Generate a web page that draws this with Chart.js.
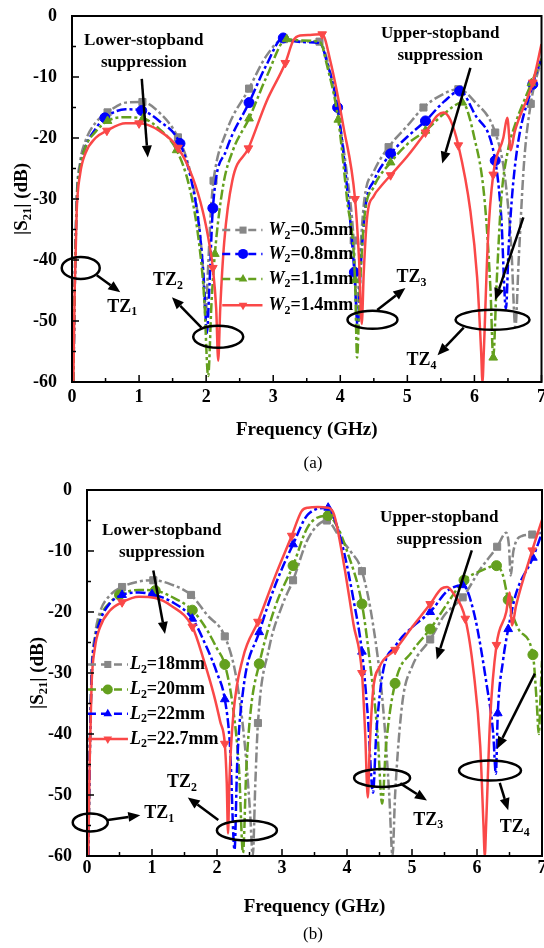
<!DOCTYPE html>
<html>
<head>
<meta charset="utf-8">
<script src="https://cdn.jsdelivr.net/npm/chart.js@4.4.1/dist/chart.umd.min.js"></script>
<style>
  body { margin: 0; background: #fff; }
  canvas { position: absolute; left: 0; }
</style>
</head>
<body>
<canvas id="chart-a" width="544" height="474" style="top:0"></canvas>
<canvas id="chart-b" width="544" height="474" style="top:474px"></canvas>
<script>
// ── Axis ticks ────────────────────────────────────────────────────────────────
const freqTicks = [0, 1, 2, 3, 4, 5, 6, 7];
const dbTicks = [0, -10, -20, -30, -40, -50, -60];

// ── (a) W2 sweep: [GHz, dB, marker?] ─────────────────────────────────────────
const w2Labels = ["0.5", "0.8", "1.1", "1.4"];
const w05 = [[0.02,-60],[0.04,-45],[0.07,-30],[0.12,-24],[0.2,-20.5],[0.35,-17.5],[0.53,-15.8,1],[0.8,-14.2],[1.05,-14.1,1],[1.3,-15.8],[1.58,-19.9,1],[1.75,-25],[1.88,-33],[1.95,-41],[1.99,-49],[2.03,-41],[2.07,-32],[2.11,-27,1],[2.3,-19],[2.64,-11.9,1],[2.9,-6.5],[3.16,-3.8,1],[3.4,-4.2],[3.69,-4.2,1],[3.8,-7],[3.95,-15],[4.1,-26],[4.2,-36.8,1],[4.25,-48],[4.29,-40],[4.36,-30],[4.5,-25.5],[4.72,-21.5,1],[5.0,-18],[5.24,-15,1],[5.5,-13],[5.76,-12,1],[6.0,-14],[6.31,-19.1,1],[6.45,-26],[6.55,-38],[6.61,-51],[6.66,-40],[6.74,-24],[6.84,-14.4,1],[7.0,-7]];
const w08 = [[0.02,-60],[0.04,-45],[0.07,-31],[0.12,-25],[0.2,-21.5],[0.35,-18.5],[0.49,-16.7,1],[0.8,-15.3],[1.04,-15.5,1],[1.3,-17.2],[1.61,-20.9,1],[1.78,-27],[1.9,-35],[1.97,-44],[2.01,-52],[2.05,-44],[2.1,-31.5,1],[2.3,-22],[2.64,-14.2,1],[2.9,-8],[3.15,-3.6,1],[3.3,-4.1],[3.5,-4.3],[3.7,-4.5],[3.8,-7.5],[3.96,-15,1],[4.1,-28],[4.21,-42,1],[4.26,-51],[4.3,-42],[4.38,-31],[4.5,-27],[4.75,-22.6,1],[5.0,-19.8],[5.27,-17.2,1],[5.55,-14],[5.78,-12.3,1],[6.0,-16],[6.31,-23.7,1],[6.4,-33],[6.47,-48],[6.51,-38],[6.6,-25],[6.87,-11.2,1],[7.0,-7]];
const w11 = [[0.02,-60],[0.04,-45],[0.07,-31],[0.12,-25],[0.2,-21.5],[0.35,-19],[0.53,-17.2,1],[0.8,-16.6],[1.06,-16.8,1],[1.3,-18.5],[1.56,-22,1],[1.75,-28],[1.88,-36],[1.97,-46],[2.03,-59],[2.08,-47],[2.13,-39,1],[2.25,-28],[2.4,-22],[2.64,-16.8,1],[2.9,-10],[3.2,-3.8,1],[3.4,-4],[3.7,-4.3],[3.8,-8],[3.97,-17,1],[4.1,-30],[4.22,-43.3,1],[4.25,-56],[4.29,-45],[4.36,-33],[4.5,-28],[4.75,-24,1],[5.0,-21],[5.27,-18.8,1],[5.55,-16],[5.82,-14.2,1],[6.0,-20],[6.15,-30],[6.24,-45],[6.28,-56,1],[6.33,-44],[6.4,-30],[6.5,-22],[6.6,-18],[6.85,-11,1],[7.0,-7]];
const w14 = [[0.02,-60],[0.04,-45],[0.07,-32],[0.12,-26],[0.2,-22.5],[0.35,-20],[0.52,-18.8,1],[0.8,-17.6],[1.0,-17.6,1],[1.3,-18.8],[1.58,-21.6,1],[1.8,-26.5],[1.95,-32],[2.05,-37.5],[2.1,-41.3,1],[2.15,-48],[2.18,-56.5],[2.21,-48],[2.27,-37],[2.39,-27],[2.63,-21.7,1],[2.9,-14],[3.18,-7.7,1],[3.3,-4],[3.4,-3.2],[3.55,-3.1],[3.73,-3,1],[3.85,-7.3],[4.05,-18.3],[4.22,-30,1],[4.28,-40],[4.32,-50.5],[4.35,-42],[4.4,-33],[4.5,-29.5],[4.6,-28],[4.75,-26.1,1],[5.0,-23],[5.27,-19.1,1],[5.45,-16.3],[5.54,-15.8],[5.64,-17],[5.76,-21.2,1],[5.94,-32],[6.04,-42.8],[6.1,-55],[6.12,-60],[6.14,-55],[6.2,-37],[6.28,-26,1],[6.43,-20],[6.49,-16.7],[6.54,-22],[6.6,-19],[6.87,-10.9,1],[7.0,-4.6]];

// ── (b) L2 sweep ──────────────────────────────────────────────────────────────
const l2Labels = ["18", "20", "22", "22.7"];
const l18 = [[0.02,-60],[0.04,-45],[0.07,-30],[0.12,-24],[0.2,-20],[0.35,-17.3],[0.54,-15.9,1],[0.8,-15],[1.02,-14.8,1],[1.3,-15.5],[1.6,-17.2,1],[1.85,-20.5],[2.12,-24,1],[2.3,-31],[2.43,-42],[2.51,-53],[2.55,-60],[2.59,-48],[2.63,-38.2,1],[2.8,-26],[3.0,-19],[3.17,-14.8,1],[3.4,-8],[3.69,-5,1],[3.9,-8],[4.05,-10],[4.23,-13.3,1],[4.4,-22],[4.55,-35],[4.65,-50],[4.7,-60],[4.74,-50],[4.85,-35],[5.0,-29],[5.28,-24.5,1],[5.5,-20.5],[5.78,-17.6,1],[6.05,-13],[6.31,-9.3,1],[6.45,-7],[6.49,-9],[6.52,-14],[6.56,-10],[6.7,-7.5],[6.85,-7.3,1],[7.0,-7]];
const l20 = [[0.02,-60],[0.04,-45],[0.07,-31],[0.12,-25],[0.2,-21],[0.35,-18.5],[0.5,-17.2,1],[0.8,-16.4],[1.05,-16.5,1],[1.3,-17.5],[1.62,-19.7,1],[1.85,-23],[2.0,-26],[2.12,-28.6,1],[2.25,-36],[2.34,-46],[2.4,-59.5],[2.45,-46],[2.52,-36],[2.65,-28.5,1],[2.9,-19],[3.17,-12.4,1],[3.4,-6],[3.71,-4.2,1],[3.85,-6],[4.0,-10],[4.23,-18.7,1],[4.35,-28],[4.47,-40],[4.54,-51.4],[4.6,-42],[4.74,-31.7,1],[5.0,-26.5],[5.28,-22.8,1],[5.55,-18.5],[5.8,-14.8,1],[6.05,-13.3],[6.3,-12.4,1],[6.4,-14],[6.48,-18,1],[6.65,-23],[6.86,-27,1],[6.92,-35],[6.95,-40],[6.98,-33],[7.0,-28]];
const l22 = [[0.02,-60],[0.04,-45],[0.07,-31],[0.12,-25],[0.2,-21.5],[0.35,-18.6],[0.54,-17.2,1],[0.8,-16.8],[1.0,-17.1,1],[1.3,-18.3],[1.62,-21.1,1],[1.85,-26],[2.0,-30],[2.12,-34.3,1],[2.2,-42],[2.27,-59],[2.31,-45],[2.4,-33],[2.65,-23.3,1],[2.9,-15.5],[3.17,-8.9,1],[3.4,-4],[3.71,-2.9,1],[3.8,-4.5],[3.95,-10],[4.1,-18],[4.23,-26.5,1],[4.32,-37],[4.4,-49.6],[4.45,-40],[4.55,-30],[4.75,-25.5],[5.0,-22.5],[5.28,-20,1],[5.55,-16.5],[5.78,-15.6,1],[5.95,-20],[6.15,-32],[6.25,-40],[6.29,-46.5],[6.32,-36.6,1],[6.4,-28],[6.48,-22.8,1],[6.6,-17],[6.86,-11.1,1],[7.0,-7]];
const l227 = [[0.02,-60],[0.04,-45],[0.07,-32],[0.12,-26],[0.2,-22.5],[0.35,-19.8],[0.54,-18.4,1],[0.8,-17.5],[1.05,-17.7],[1.3,-19],[1.62,-22.4,1],[1.8,-28],[1.95,-33.5],[2.05,-38],[2.12,-41.6,1],[2.15,-48],[2.17,-56.3],[2.19,-48],[2.25,-37],[2.4,-27.5],[2.63,-21.6,1],[2.9,-14],[3.15,-7.5,1],[3.3,-3.5],[3.4,-2.9],[3.55,-2.8],[3.7,-2.9],[3.8,-4],[3.95,-12],[4.1,-22],[4.23,-30,1],[4.28,-40],[4.32,-50.4],[4.35,-42],[4.4,-33],[4.5,-29],[4.74,-26.2,1],[5.0,-22.5],[5.28,-18.7,1],[5.45,-16.2],[5.54,-15.9],[5.64,-17],[5.82,-21.1,1],[5.95,-30],[6.05,-42],[6.1,-55],[6.12,-60],[6.14,-55],[6.2,-38],[6.3,-25.4,1],[6.45,-20],[6.5,-16.8],[6.54,-22.2],[6.6,-19],[6.85,-9.9,1],[7.0,-4.9]];

// ── Styles ────────────────────────────────────────────────────────────────────
const SERIF = "'Liberation Serif', 'Times New Roman', serif";
const GRAY = "#878787", BLUE = "#0000ff", GREEN = "#64a01e", RED = "#fa4848";
const DASHDOT = [10, 3, 3, 3];
const stylesA = [
    { color: GRAY, point: "rect", rot: 0, dash: DASHDOT },
    { color: BLUE, point: "circle", rot: 0, dash: DASHDOT },
    { color: GREEN, point: "triangle", rot: 0, dash: DASHDOT },
    { color: RED, point: "triangle", rot: 180, dash: [] },
];
const stylesB = [
    { color: GRAY, point: "rect", rot: 0, dash: DASHDOT },
    { color: GREEN, point: "circle", rot: 0, dash: DASHDOT },
    { color: BLUE, point: "triangle", rot: 0, dash: DASHDOT },
    { color: RED, point: "triangle", rot: 180, dash: [] },
];

function series(points, st, order) {
    return {
        data: points.map(p => ({ x: p[0], y: p[1] })),
        borderColor: st.color,
        backgroundColor: st.color,
        borderWidth: 2.5,
        borderDash: st.dash,
        cubicInterpolationMode: "monotone",
        pointStyle: st.point,
        pointRotation: st.rot,
        pointRadius: ctx => (points[ctx.dataIndex] && points[ctx.dataIndex][2] ? 5 : 0),
        pointBorderWidth: 1,
        pointHoverRadius: 0,
        order,
    };
}

// ── Annotations (in data units) ───────────────────────────────────────────────
const decor = {
    "chart-a": {
        panel: "(a)", varName: "W", labels: w2Labels, styles: stylesA, yTitleX: 22, xTitleDy: 48, panelY: 464,
        legendDb: [-35.1, -39, -43.1, -47.4], legendF: { x1: 2.24, x2: 2.84, mark: 2.55, text: 2.93 },
        notes: [[1.07, -4.1, "Lower-stopband"], [1.07, -7.7, "suppression"], [5.49, -2.9, "Upper-stopband"], [5.49, -6.5, "suppression"]],
        tz: [[0.75, -47.7, "1"], [1.43, -43.3, "2"], [5.06, -42.8, "3"], [5.21, -56.4, "4"]],
        arrows: [[1.04, -10.3, 1.13, -23.2], [5.94, -8.5, 5.52, -24.2], [0.37, -42.5, 0.72, -45.3], [1.93, -51.1, 1.49, -46.1],
                 [4.55, -48.2, 4.97, -44.6], [5.84, -51.1, 5.45, -55.6], [6.73, -33, 6.31, -46.6]],
        ellipses: [[0.13, -41.3, 19, 11], [2.18, -52.6, 25, 11], [4.48, -49.8, 25, 9], [6.27, -49.8, 37, 10]],
    },
    "chart-b": {
        panel: "(b)", varName: "L", labels: l2Labels, styles: stylesB, yTitleX: 38, xTitleDy: 51, panelY: 461,
        legendDb: [-28.6, -32.7, -36.7, -40.8], legendF: { x1: 0.015, x2: 0.63, mark: 0.32, text: 0.66 },
        notes: [[1.15, -6.7, "Lower-stopband"], [1.15, -10.2, "suppression"], [5.42, -4.6, "Upper-stopband"], [5.42, -8.1, "suppression"]],
        tz: [[1.11, -53, "1"], [1.46, -48, "2"], [5.25, -54.1, "3"], [6.58, -55.3, "4"]],
        arrows: [[1.02, -13.2, 1.2, -23.6], [5.92, -9.9, 5.38, -27.8], [0.32, -54.1, 0.82, -53.3], [2.02, -54.1, 1.55, -50.4],
                 [4.82, -48.1, 5.23, -50.9], [6.35, -48, 6.48, -52.5], [6.89, -30.1, 6.31, -42.4]],
        ellipses: [[0.05, -54.5, 17.5, 9], [2.46, -55.8, 30, 10], [4.54, -47.2, 28, 9], [6.2, -46, 31, 10]],
    },
};

// ── Drawing helpers ───────────────────────────────────────────────────────────
function drawRich(ctx, parts, x, y, size, align) {
    const pieces = parts.map(p => {
        const s = p.sub ? size * 0.66 : size;
        const f = `${p.italic ? "italic " : ""}bold ${s}px ${SERIF}`;
        ctx.font = f;
        return { t: p.t, f, w: ctx.measureText(p.t).width, dy: p.sub ? size * 0.3 : 0 };
    });
    const total = pieces.reduce((a, p) => a + p.w, 0);
    let cx = align === "center" ? x - total / 2 : x;
    ctx.textAlign = "left";
    ctx.textBaseline = "middle";
    for (const p of pieces) {
        ctx.font = p.f;
        ctx.fillText(p.t, cx, y + p.dy);
        cx += p.w;
    }
}

function drawArrow(ctx, x1, y1, x2, y2) {
    const a = Math.atan2(y2 - y1, x2 - x1), L = 12, W = 5;
    const bx = x2 - L * Math.cos(a), by = y2 - L * Math.sin(a);
    ctx.beginPath();
    ctx.moveTo(x1, y1);
    ctx.lineTo(bx, by);
    ctx.stroke();
    ctx.beginPath();
    ctx.moveTo(x2, y2);
    ctx.lineTo(bx - W * Math.sin(a), by + W * Math.cos(a));
    ctx.lineTo(bx + W * Math.sin(a), by - W * Math.cos(a));
    ctx.closePath();
    ctx.fill();
}

function drawMarker(ctx, style, rot, x, y, r) {
    ctx.beginPath();
    if (style === "rect") {
        const s = r * Math.SQRT1_2;
        ctx.rect(x - s, y - s, 2 * s, 2 * s);
    } else if (style === "circle") {
        ctx.arc(x, y, r, 0, Math.PI * 2);
    } else {
        const k = rot ? -1 : 1, side = r * Math.sqrt(3);
        ctx.moveTo(x, y - k * r);
        ctx.lineTo(x + side / 2, y + k * r * 0.5);
        ctx.lineTo(x - side / 2, y + k * r * 0.5);
        ctx.closePath();
    }
    ctx.fill();
}

const decorPlugin = {
    id: "decor",
    afterDraw(chart) {
        const d = decor[chart.canvas.id];
        const { ctx, chartArea: ca } = chart;
        const xs = chart.scales.x, ys = chart.scales.y;
        const px = f => xs.getPixelForValue(f), py = v => ys.getPixelForValue(v);
        ctx.save();
        ctx.fillStyle = "#000";
        ctx.strokeStyle = "#000";

        // frame + inward ticks
        ctx.lineWidth = 2;
        ctx.strokeRect(ca.left, ca.top, ca.right - ca.left, ca.bottom - ca.top);
        ctx.lineWidth = 1.5;
        ctx.beginPath();
        for (let f = 0; f <= 7; f += 0.5) {
            const len = Number.isInteger(f) ? 7 : 4;
            ctx.moveTo(px(f), ca.bottom);
            ctx.lineTo(px(f), ca.bottom - len);
        }
        for (let v = -60; v <= 0; v += 5) {
            const len = v % 10 === 0 ? 7 : 4;
            ctx.moveTo(ca.left, py(v));
            ctx.lineTo(ca.left + len, py(v));
        }
        ctx.stroke();

        // ellipses
        ctx.lineWidth = 2.5;
        for (const [f, v, rx, ry] of d.ellipses) {
            ctx.beginPath();
            ctx.ellipse(px(f), py(v), rx, ry, 0, 0, Math.PI * 2);
            ctx.stroke();
        }
        // arrows
        for (const [f1, v1, f2, v2] of d.arrows) drawArrow(ctx, px(f1), py(v1), px(f2), py(v2));

        // notes
        ctx.textAlign = "center";
        ctx.textBaseline = "middle";
        ctx.font = `bold 17px ${SERIF}`;
        for (const [f, v, t] of d.notes) ctx.fillText(t, px(f), py(v));
        for (const [f, v, n] of d.tz) drawRich(ctx, [{ t: "TZ" }, { t: n, sub: true }], px(f), py(v), 18, "center");

        // legend
        const lf = d.legendF;
        d.labels.forEach((lab, i) => {
            const st = d.styles[i], y = py(d.legendDb[i]);
            ctx.strokeStyle = st.color;
            ctx.fillStyle = st.color;
            ctx.lineWidth = 2.5;
            ctx.setLineDash(st.dash.length ? [8, 5] : []);
            ctx.beginPath();
            ctx.moveTo(px(lf.x1), y);
            ctx.lineTo(px(lf.x2), y);
            ctx.stroke();
            ctx.setLineDash([]);
            drawMarker(ctx, st.point, st.rot, px(lf.mark), y, 5);
            ctx.fillStyle = "#000";
            drawRich(ctx, [{ t: d.varName, italic: true }, { t: "2", sub: true }, { t: `=${lab}mm` }], px(lf.text), y, 18, "left");
        });

        // axis titles and panel label
        ctx.fillStyle = "#000";
        drawRich(ctx, [{ t: "Frequency (GHz)" }], (ca.left + ca.right) / 2, ca.bottom + d.xTitleDy, 19, "center");
        ctx.save();
        ctx.translate(d.yTitleX, (ca.top + ca.bottom) / 2);
        ctx.rotate(-Math.PI / 2);
        drawRich(ctx, [{ t: "|S" }, { t: "21", sub: true }, { t: "| (dB)" }], 0, 0, 19, "center");
        ctx.restore();
        ctx.font = `17px ${SERIF}`;
        ctx.textAlign = "center";
        ctx.fillText(d.panel, 313, d.panelY);
        ctx.restore();
    },
};

// ── Chart builder ─────────────────────────────────────────────────────────────
const tickFont = { family: SERIF, weight: "bold", size: 18, lineHeight: 1 };

function buildChart(id, sets, cfg) {
    return new Chart(document.getElementById(id), {
        type: "line",
        data: { datasets: sets },
        options: {
            responsive: false,
            animation: false,
            devicePixelRatio: 1,
            layout: { autoPadding: false, padding: { top: cfg.top, right: 2, bottom: 0, left: 0 } },
            plugins: { legend: { display: false }, tooltip: { enabled: false } },
            scales: {
                x: {
                    type: "linear", min: 0, max: 7,
                    afterBuildTicks: s => { s.ticks = freqTicks.map(v => ({ value: v })); },
                    afterFit: s => { s.height = 474 - 382; },
                    grid: { display: false },
                    border: { display: true, color: "#000", width: 2 },
                    ticks: { font: tickFont, color: "#000", padding: cfg.xPad, maxRotation: 0, autoSkip: false, callback: v => String(v) },
                },
                y: {
                    type: "linear", min: -60, max: 0,
                    afterBuildTicks: s => { s.ticks = dbTicks.map(v => ({ value: v })); },
                    afterFit: s => { s.width = cfg.left; },
                    grid: { display: false },
                    border: { display: true, color: "#000", width: 2 },
                    ticks: { font: tickFont, color: "#000", padding: 7, autoSkip: false, callback: v => String(v) },
                },
            },
        },
        plugins: [decorPlugin],
    });
}

buildChart("chart-a",
    [series(w05, stylesA[0], 3), series(w08, stylesA[1], 2), series(w11, stylesA[2], 1), series(w14, stylesA[3], 0)],
    { top: 15, left: 72, xPad: -2 });
buildChart("chart-b",
    [series(l18, stylesB[0], 3), series(l20, stylesB[1], 2), series(l22, stylesB[2], 1), series(l227, stylesB[3], 0)],
    { top: 13, left: 87, xPad: -5 });
</script>
</body>
</html>
